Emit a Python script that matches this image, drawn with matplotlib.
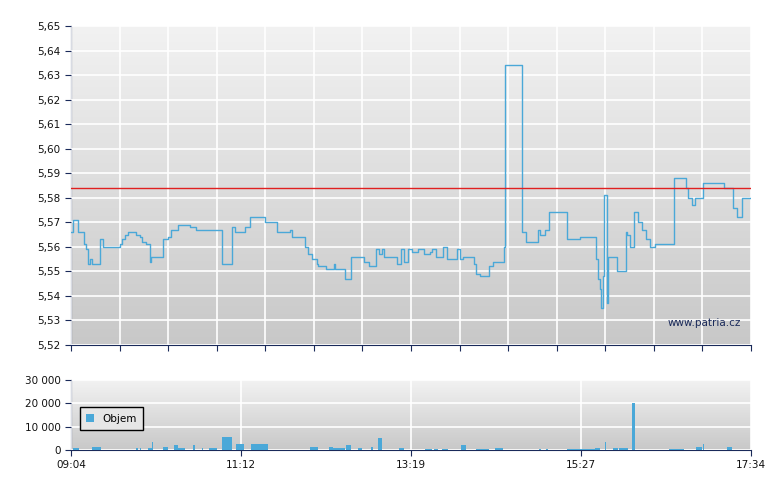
import numpy as np
import matplotlib
matplotlib.use("Agg")
import matplotlib.pyplot as plt

# price series: minutes after 09:04, price (step-post)
t = [0,1.5,5,10,11,13,14,16,22,24,37,38,40.5,43,49,52,53,56,59,60,69,73,75,80,89,94,113,121,123,130.5,134,145.5,148,154.5,164,166,175.5,178,181,184.5,185,191,197,198,205.5,210,220,223.5,229,231,233,235,244.5,247.5,250,253,256,260,265,269,271,274,279,282,289.5,292,294,296,302,304,307,313.5,316.5,325,325.5,338,341,350,352,355.5,358.5,372,382,394,395,397,397.5,399,400,401,402,403,404,409.5,416,417,419,422,425,428,431,434,438,452,459,461,463,466,468,474,488,490,496.5,499.5,503,510]
p = [5.566,5.571,5.566,5.561,5.559,5.553,5.555,5.553,5.563,5.560,5.561,5.563,5.565,5.566,5.565,5.564,5.562,5.561,5.554,5.556,5.563,5.564,5.567,5.569,5.568,5.567,5.553,5.568,5.566,5.568,5.572,5.570,5.570,5.566,5.567,5.564,5.560,5.557,5.555,5.553,5.552,5.551,5.553,5.551,5.547,5.556,5.554,5.552,5.559,5.557,5.559,5.556,5.553,5.559,5.554,5.559,5.558,5.559,5.557,5.558,5.559,5.556,5.560,5.555,5.559,5.555,5.556,5.556,5.553,5.549,5.548,5.552,5.554,5.560,5.634,5.566,5.562,5.567,5.565,5.567,5.574,5.563,5.564,5.555,5.547,5.543,5.535,5.548,5.581,5.581,5.537,5.556,5.556,5.550,5.566,5.565,5.560,5.574,5.570,5.567,5.563,5.560,5.561,5.588,5.588,5.584,5.580,5.577,5.580,5.586,5.586,5.584,5.576,5.572,5.580,5.580]
ref_price = 5.584

vol_t = [1.8,15.7,49,51.7,57.7,60.5,68.9,77,80.4,91.2,97.9,103.8,113.6,124.1,134.9,179.3,193.3,196.8,206.2,215,224.7,230.3,245.7,265.6,272.6,278.6,292.5,304,318,351.3,356.5,372.2,393.2,400.2,406.5,410.7,420.5,448.4,469,473.9,491.7]
vol_w = [4,7,1.5,1,3.5,1,3.5,3,5,2,1,6,7,6,13,6,3.5,9,4,3,1.5,2.8,4,5,2.5,4.5,3.5,9.5,6,1.5,1.5,21,3.5,1,4,7,2.5,11,4.5,1,4]
vol_v = [700,1400,700,1000,700,3500,1100,2100,700,2000,700,700,5700,2400,2400,1400,1400,700,2200,700,1400,5200,1000,600,600,600,2200,600,1000,400,400,400,1000,3400,1000,700,20000,600,1100,2400,1400]

xlabels = ["09:04","11:12","13:19","15:27","17:34"]

W, H = 780, 490
fig = plt.figure(figsize=(7.8, 4.9), dpi=100)
navy = "#1a2a5a"
line_c = "#4aa8d8"

def grad(ax):
    g = np.linspace(0, 1, 256).reshape(-1, 1)
    ax.imshow(g, aspect="auto", cmap=matplotlib.colors.LinearSegmentedColormap.from_list("g", ["#f2f2f2", "#c8c8c8"]),
              extent=[0, 1, 0, 1], transform=ax.transAxes, zorder=0)

def style(ax):
    for s in ["top", "right"]:
        ax.spines[s].set_visible(False)
    for s in ["left", "bottom"]:
        ax.spines[s].set_color(navy)
    ax.tick_params(colors=navy, labelsize=7.5, direction="out", length=4, labelcolor="#111111")
    ax.grid(True, color="white", linewidth=1.2, zorder=1)
    ax.set_axisbelow(False)

ax = fig.add_axes([71/W, 1-345/H, 680/W, 319/H])
grad(ax)
ax.plot(t, p, drawstyle="steps-post", color=line_c, lw=1.0, zorder=3)
ax.axhline(ref_price, color="#e02020", lw=1, zorder=3)
ax.set_xlim(0, 510)
ax.set_ylim(5.52, 5.65)
yt = np.round(np.arange(5.52, 5.6501, 0.01), 2)
ax.set_yticks(yt)
ax.set_yticklabels([f"{v:.2f}".replace(".", ",") for v in yt])
ax.set_xticks(np.linspace(0, 510, 15))
ax.set_xticklabels([])
style(ax)
ax.text(0.985, 0.06, "www.patria.cz", transform=ax.transAxes, ha="right", fontsize=7.5, color="#1a2a5a", zorder=4)

ax2 = fig.add_axes([71/W, 1-450/H, 680/W, 70/H])
grad(ax2)
ax2.bar(vol_t, vol_v, width=vol_w, align="edge", color=line_c, zorder=3, label="Objem")
ax2.set_xlim(0, 510)
ax2.set_ylim(0, 30000)
ax2.set_yticks([0, 10000, 20000, 30000])
ax2.set_yticklabels(["0", "10 000", "20 000", "30 000"])
ax2.set_xticks(np.linspace(0, 510, 5))
ax2.set_xticklabels(xlabels)
style(ax2)
leg = ax2.legend(loc="center left", bbox_to_anchor=(0.005, 0.45), fontsize=7.5, handlelength=0.8,
                 handleheight=0.8, fancybox=False, framealpha=1, edgecolor="black", borderpad=0.6)
leg.get_frame().set_facecolor("#e6e6e6")
fig.savefig("out.png", dpi=100, facecolor="white")
